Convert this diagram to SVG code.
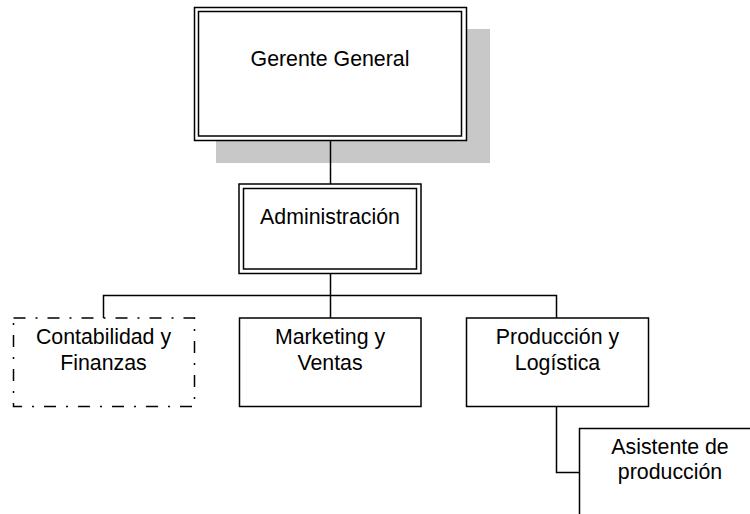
<svg xmlns="http://www.w3.org/2000/svg" width="750" height="514" viewBox="0 0 750 514">
<style>
.box{fill:#ffffff;stroke:#000000;stroke-width:1.5}
.thin{fill:none;stroke:#000000;stroke-width:1.5}
.dashbox{fill:#ffffff;stroke:#000000;stroke-width:1.5;stroke-dasharray:12,10,2,10}
.conn{fill:none;stroke:#000000;stroke-width:1.5}
.shadow{fill:#c8c8c8;stroke:none}
text{font-family:"Liberation Sans",Arial,sans-serif;font-size:21.33px;fill:#000000;text-anchor:middle}
</style>
<rect width="750" height="514" fill="#ffffff"/>
<g id="gerente-shadow">
<rect class="shadow" x="216" y="29" width="274" height="134"/>
</g>
<g id="connectors">
<path class="conn" d="M330.5,140.5 V184"/>
<path class="conn" d="M330.5,273.5 V318"/>
<path class="conn" d="M103.5,318 V295.5 H556.5 V318"/>
<path class="conn" d="M556.5,406.5 V472.5 H579.5"/>
</g>
<g id="gerente">
<rect class="box" x="194.5" y="7.5" width="272" height="133" stroke-width="2"/>
<rect class="thin" x="198.5" y="11.5" width="263" height="124.5"/>
<text x="330" y="66">Gerente General</text>
</g>
<g id="administracion">
<rect class="box" x="239" y="184" width="182" height="89.5"/>
<rect class="thin" x="243.5" y="188.5" width="173" height="80.5"/>
<text x="330" y="223.5">Administración</text>
</g>
<g id="contabilidad">
<rect class="dashbox" x="13.5" y="318" width="181" height="88.5"/>
<text x="103.5" y="343.5">Contabilidad y</text>
<text x="103.5" y="369.5">Finanzas</text>
</g>
<g id="marketing">
<rect class="box" x="239.5" y="318" width="181.5" height="88.5"/>
<text x="330" y="344">Marketing y</text>
<text x="330" y="369.5">Ventas</text>
</g>
<g id="produccion">
<rect class="box" x="466.5" y="318" width="182" height="88.5"/>
<text x="557.5" y="344">Producción y</text>
<text x="557.5" y="369.5">Logística</text>
</g>
<g id="asistente">
<rect class="box" x="579.5" y="428.5" width="182" height="89"/>
<text x="670" y="453.5">Asistente de</text>
<text x="670" y="479">producción</text>
</g>
</svg>
